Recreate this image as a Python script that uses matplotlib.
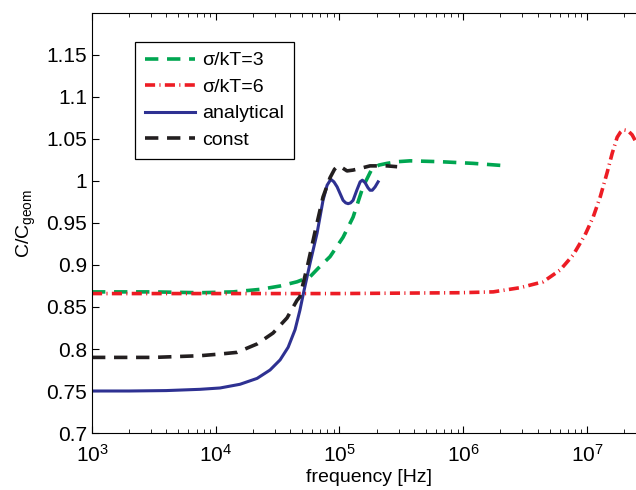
import numpy as np
import matplotlib
matplotlib.use("Agg")
import matplotlib.pyplot as plt
from matplotlib.ticker import FixedLocator, FuncFormatter, LogLocator, NullFormatter

plt.rcParams['font.family'] = ['Liberation Sans', 'DejaVu Sans']
plt.rcParams['mathtext.fontset'] = 'custom'
plt.rcParams['mathtext.rm'] = 'Liberation Sans'
plt.rcParams['mathtext.it'] = 'Liberation Sans:italic'

# log10(frequency) and C/C_geom for each curve
logf_s3 = [3.0, 3.5, 3.873, 4.14, 4.36, 4.52, 4.657, 4.762, 4.827, 4.924, 5.029,
           5.11, 5.19, 5.264, 5.32, 5.385, 5.47, 5.57, 5.81, 6.08, 6.355]
c_s3 = [0.868, 0.868, 0.867, 0.868, 0.871, 0.875, 0.880, 0.886, 0.896, 0.910, 0.933,
        0.957, 0.993, 1.015, 1.019, 1.021, 1.023, 1.024, 1.023, 1.021, 1.018]

logf_s6 = [3.0, 4.0, 5.0, 5.975, 6.242, 6.46, 6.646, 6.783, 6.889, 6.985, 7.05,
           7.107, 7.163, 7.204, 7.244, 7.27, 7.293, 7.33, 7.365, 7.398, 7.45]
c_s6 = [0.866, 0.866, 0.866, 0.867, 0.868, 0.873, 0.880, 0.894, 0.912, 0.936, 0.957,
        0.981, 1.010, 1.033, 1.052, 1.058, 1.061, 1.060, 1.055, 1.046, 1.030]

logf_an = [3.0, 3.3, 3.6, 3.873, 4.035, 4.196, 4.334, 4.439, 4.52, 4.585, 4.641,
           4.68, 4.714, 4.762, 4.819, 4.867, 4.9, 4.93, 4.955, 4.981, 5.005, 5.029,
           5.05, 5.07, 5.09, 5.11, 5.14, 5.167, 5.185, 5.207, 5.23, 5.247, 5.265,
           5.288, 5.312]
c_an = [0.750, 0.750, 0.7505, 0.752, 0.7536, 0.758, 0.765, 0.775, 0.787, 0.802,
        0.823, 0.846, 0.870, 0.902, 0.938, 0.977, 0.995, 1.002, 0.999, 0.993, 0.985,
        0.977, 0.974, 0.973, 0.974, 0.977, 0.989, 0.999, 1.001, 0.998, 0.992, 0.989,
        0.989, 0.993, 0.999]

logf_const = [3.0, 3.5, 3.873, 4.035, 4.172, 4.334, 4.463, 4.576, 4.657, 4.68,
              4.746, 4.803, 4.867, 4.924, 4.96, 4.989, 5.02, 5.061, 5.11, 5.167,
              5.247, 5.385, 5.466]
c_const = [0.790, 0.790, 0.792, 0.794, 0.796, 0.806, 0.819, 0.837, 0.858, 0.862,
           0.902, 0.940, 0.981, 1.004, 1.014, 1.018, 1.016, 1.012, 1.013, 1.015,
           1.018, 1.018, 1.017]

fig = plt.figure(figsize=(6.36, 4.9), dpi=100)
# the frame runs a few pixels past the right edge of the figure
ax = fig.add_axes([92 / 636, 1 - 433 / 490, (646 - 92) / 636, (433 - 13) / 490])

ax.plot(10 ** np.array(logf_s3), c_s3, color='#00a651', lw=2.6,
        dashes=(3.7, 2.4), label='σ/kT=3')
ax.plot(10 ** np.array(logf_s6), c_s6, color='#ed1c24', lw=2.6,
        dashes=(2.8, 1.2, 0.3, 1.2), label='σ/kT=6')
ax.plot(10 ** np.array(logf_an), c_an, color='#2e3192', lw=2.2, label='analytical')
ax.plot(10 ** np.array(logf_const), c_const, color='#231f20', lw=2.6,
        dashes=(3.7, 2.4), label='const')

ax.set_xscale('log')
ax.set_xlim(1e3, 3e7)
ax.set_ylim(0.7, 1.2)
ax.yaxis.set_major_locator(FixedLocator(np.arange(0.7, 1.151, 0.05)))
ax.yaxis.set_major_formatter(FuncFormatter(lambda v, p: f'{v:g}'))
ax.xaxis.set_major_locator(LogLocator(base=10, numticks=10))
ax.xaxis.set_minor_locator(LogLocator(base=10, subs=np.arange(2, 10), numticks=20))
ax.xaxis.set_minor_formatter(NullFormatter())

ax.tick_params(which='both', direction='in', top=True, right=False, labelsize=15)
ax.tick_params(which='major', length=5, width=0.8)
ax.tick_params(which='minor', length=3, width=0.6)
ax.tick_params(axis='x', pad=8)
ax.spines['right'].set_visible(False)

ax.set_xlabel('frequency [Hz]', fontsize=14, labelpad=2)
ax.set_ylabel(r'C/C$_{\mathrm{geom}}$', fontsize=14, labelpad=6)

leg = ax.legend(loc='upper left', bbox_to_anchor=(0.0776, 0.931), fontsize=14,
                frameon=True, fancybox=False, framealpha=1, edgecolor='black',
                handlelength=2.6, handletextpad=0.36, labelspacing=0.46,
                borderpad=0.5, borderaxespad=0)
leg.get_frame().set_linewidth(0.9)

fig.savefig('out.png', dpi=100)
